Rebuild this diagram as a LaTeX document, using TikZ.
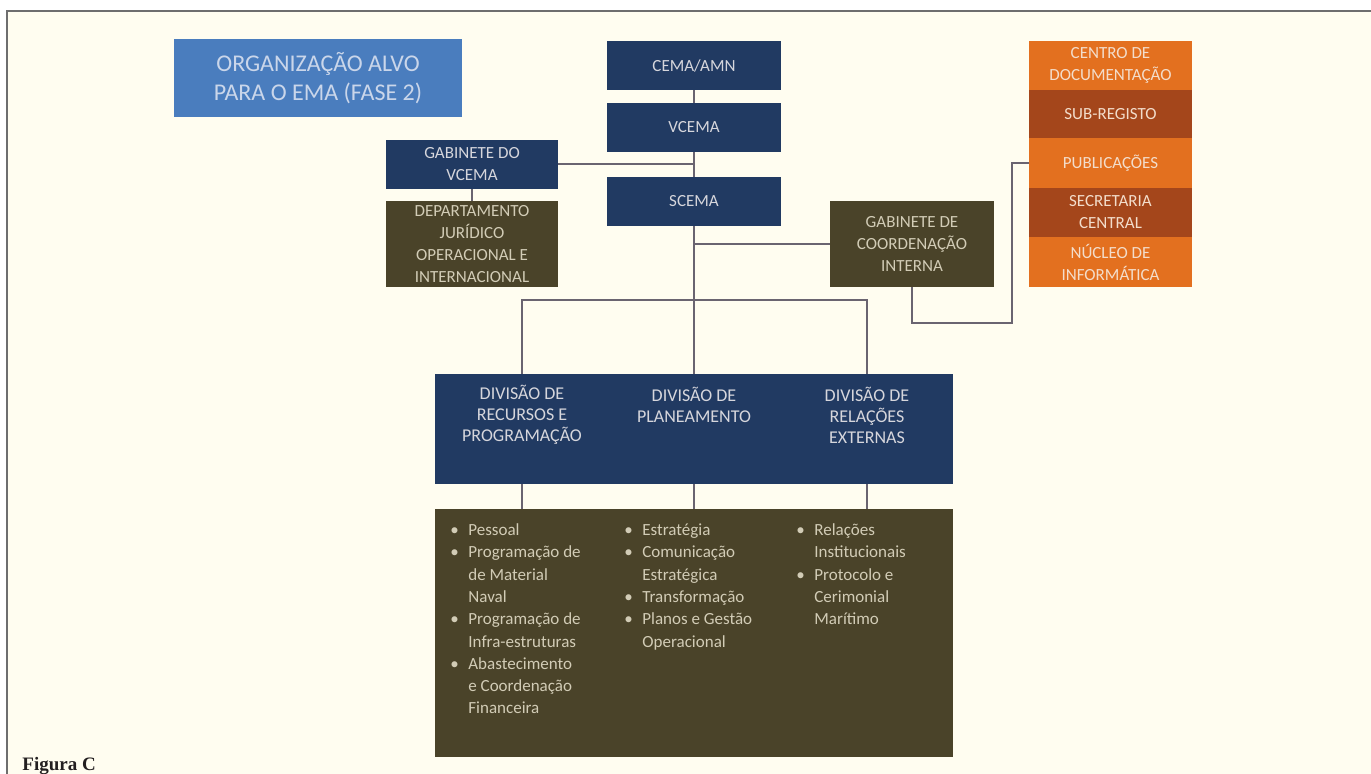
\documentclass[tikz,border=0pt]{standalone}
\usepackage{fontspec}
\setmainfont{Carlito}
\newfontfamily\capfont{Liberation Serif}
\definecolor{bgcream}{HTML}{FFFDF0}
\definecolor{framegray}{HTML}{6E6E6E}
\definecolor{navy}{HTML}{213A62}
\definecolor{olive}{HTML}{4A4329}
\definecolor{titleblue}{HTML}{4A7DBE}
\definecolor{orangeA}{HTML}{E3701F}
\definecolor{orangeB}{HTML}{A4461B}
\definecolor{linegray}{HTML}{6A6470}
\definecolor{boxtext}{HTML}{D6D6DC}
\definecolor{olivetext}{HTML}{D2CCB6}
\definecolor{orangetext}{HTML}{F3DDCB}
\definecolor{titletext}{HTML}{CAD6EA}
\definecolor{captext}{HTML}{231F20}
\tikzset{
  orgbox/.style={inner sep=0pt, align=center, text=boxtext,
    font=\fontsize{8.5}{11}\selectfont},
  navybox/.style={orgbox, fill=navy},
  olivebox/.style={orgbox, fill=olive, text=olivetext},
  orbox/.style={orgbox, fill=orangeA, text=orangetext, minimum width=81.5pt},
  orboxdark/.style={orbox, fill=orangeB},
  conn/.style={draw=linegray, line width=1pt},
  divtitle/.style={inner sep=0pt, align=center, text=boxtext,
    font=\fontsize{9}{10.5}\selectfont},
  bullcol/.style={inner sep=0pt, anchor=north west, text=olivetext,
    font=\fontsize{8.5}{11.15}\selectfont}
}
\newcommand{\bl}{\makebox[9pt][l]{\textbullet}}
\begin{document}
\begin{tikzpicture}[x=0.5pt,y=-0.5pt]
\useasboundingbox (0,0) rectangle (1371,774);
\fill[white] (0,0) rectangle (1371,774);
\fill[bgcream] (7,11) rectangle (1371,774);
\draw[framegray, line width=0.8pt] (7,774) -- (7,11) -- (1371,11);

% title
\node[orgbox, fill=titleblue, text=titletext, minimum width=144pt, minimum height=39pt,
  font=\fontsize{12}{14.5}\selectfont] (title) at (318,78) {ORGANIZAÇÃO ALVO\\PARA O EMA (FASE 2)};

% main chain
\node[navybox, minimum width=87pt, minimum height=24.5pt] (cema) at (694,65.5) {CEMA/AMN};
\node[navybox, minimum width=87pt, minimum height=24.5pt] (vcema) at (694,127.5) {VCEMA};
\node[navybox, minimum width=87pt, minimum height=24.5pt] (scema) at (694,201.5) {SCEMA};

\node[navybox, minimum width=86pt, minimum height=24.5pt] (gabv) at (472,164.5) {GABINETE DO\\VCEMA};
\node[olivebox, minimum width=86pt, minimum height=43pt] (dep) at (472,244) {DEPARTAMENTO\\JURÍDICO\\OPERACIONAL E\\INTERNACIONAL};
\node[olivebox, minimum width=82pt, minimum height=43pt] (gci) at (912,244) {GABINETE DE\\COORDENAÇÃO\\INTERNA};

% orange stack
\node[orbox, minimum height=24.5pt] (centro) at (1110.5,65.5) {CENTRO DE\\DOCUMENTAÇÃO};
\node[orboxdark, minimum height=24pt] (sub) at (1110.5,114) {SUB-REGISTO};
\node[orbox, minimum height=25pt] (pub) at (1110.5,163) {PUBLICAÇÕES};
\node[orboxdark, minimum height=24.5pt] (sec) at (1110.5,212.5) {SECRETARIA\\CENTRAL};
\node[orbox, minimum height=25pt] (nuc) at (1110.5,262) {NÚCLEO DE\\INFORMÁTICA};

% divisions
\node[fill=navy, inner sep=0pt, minimum width=259pt, minimum height=55pt] (div) at (694,429) {};
\node[divtitle] (d1) at (522,415) {DIVISÃO DE\\RECURSOS E\\PROGRAMAÇÃO};
\node[divtitle] (d2) at (694,405) {DIVISÃO DE\\PLANEAMENTO};
\node[divtitle] (d3) at (867,415) {DIVISÃO DE\\RELAÇÕES\\EXTERNAS};

\node[fill=olive, inner sep=0pt, minimum width=259pt, minimum height=124pt] (bul) at (694,633) {};
\node[bullcol] (b1) at (450,519.5) {\begin{tabular}{@{}l@{}l@{}}
\bl & Pessoal\\
\bl & Programação de\\
 & de Material\\
 & Naval\\
\bl & Programação de\\
 & Infra-estruturas\\
\bl & Abastecimento\\
 & e Coordenação\\
 & Financeira
\end{tabular}};
\node[bullcol] (b2) at (624,519.5) {\begin{tabular}{@{}l@{}l@{}}
\bl & Estratégia\\
\bl & Comunicação\\
 & Estratégica\\
\bl & Transformação\\
\bl & Planos e Gestão\\
 & Operacional
\end{tabular}};
\node[bullcol] (b3) at (796,519.5) {\begin{tabular}{@{}l@{}l@{}}
\bl & Relações\\
 & Institucionais\\
\bl & Protocolo e\\
 & Cerimonial\\
 & Marítimo
\end{tabular}};

% connectors
\coordinate (c1) at (522,300);
\coordinate (c3) at (867,300);
\coordinate (k1) at (1012,323);
\draw[conn] (cema.south) -- (vcema.north);
\draw[conn] (vcema.south) -- (scema.north);
\draw[conn] (scema.south) -- (div.north);
\draw[conn] (gabv.east) -- (gabv.east -| vcema.south);
\draw[conn] (gabv.south) -- (dep.north);
\draw[conn] (gci.west) -- (gci.west -| scema.south);
\draw[conn] (c1 |- div.north) -- (c1) -- (c3) -- (c3 |- div.north);
\draw[conn] (c1 |- div.south) -- (c1 |- bul.north);
\draw[conn] (div.south) -- (bul.north);
\draw[conn] (c3 |- div.south) -- (c3 |- bul.north);
\draw[conn] (gci.south) |- (k1) |- (pub.west);

% caption
\node[anchor=base west, inner sep=0pt, text=captext, font=\capfont\bfseries\fontsize{9.5}{11}\selectfont] (cap) at (22,770) {Figura C};
\end{tikzpicture}
\end{document}
